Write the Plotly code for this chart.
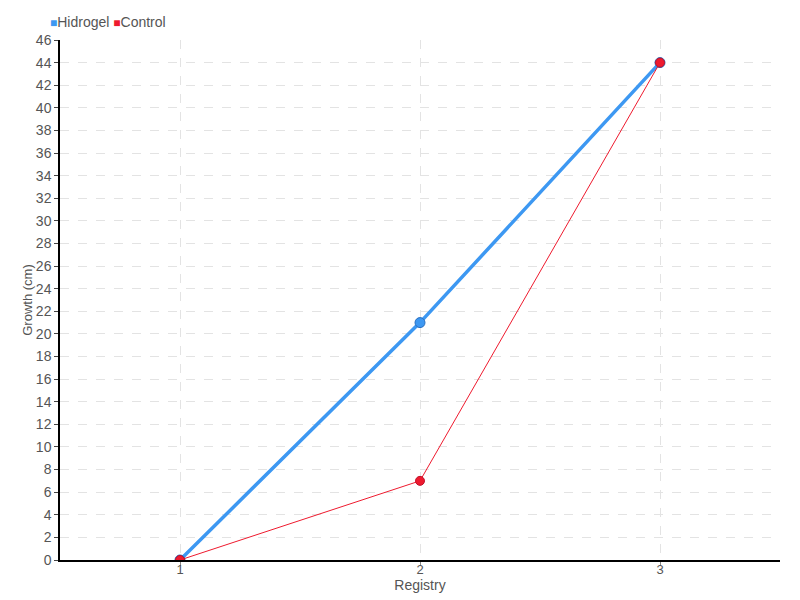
import plotly.graph_objects as go

registry = [1, 2, 3]
hidrogel = [0, 21, 44]
control = [0, 7, 44]

FONT = "Liberation Sans"
BLUE = "#3d98f2"
RED = "#ee1a2e"
TXT = "#555555"

fig = go.Figure()
fig.add_trace(go.Scatter(x=registry, y=hidrogel, mode="lines+markers", name="Hidrogel",
                         line=dict(color=BLUE, width=3.5),
                         marker=dict(color=BLUE, size=10, line=dict(color="#2a6fc0", width=1)),
                         showlegend=False))
fig.add_trace(go.Scatter(x=registry, y=control, mode="lines+markers", name="Control",
                         line=dict(color=RED, width=1),
                         marker=dict(color=RED, size=9, line=dict(color="#c0102a", width=1)),
                         showlegend=False))

legend_text = (f"<span style='color:{BLUE};font-size:12px'>■</span>Hidrogel "
               f"<span style='color:{RED};font-size:12px'>■</span>Control")
fig.add_annotation(text=legend_text, xref="paper", yref="paper", x=-0.016, y=1.0,
                   xanchor="left", yanchor="bottom", yshift=8, showarrow=False,
                   font=dict(family=FONT, size=14, color=TXT))

fig.update_layout(
    width=800, height=600,
    margin=dict(l=52, r=28, t=32, b=48),
    plot_bgcolor="white", paper_bgcolor="white",
    font=dict(family=FONT, size=14, color=TXT),
    showlegend=False,
)
fig.update_xaxes(
    range=[0.5, 3.5], tickvals=registry, ticktext=[str(v) for v in registry],
    showline=True, linecolor="black", linewidth=1.5,
    ticks="outside", ticklen=4, tickcolor="#888888",
    ticklabelstandoff=-7,
    showgrid=True, gridcolor="#e3e3e3", griddash="dash", zeroline=False,
    automargin=False, tickfont=dict(size=13),
    title=dict(text="Registry", standoff=0, font=dict(size=14)),
)
fig.update_yaxes(
    range=[0, 46], dtick=2,
    showline=True, linecolor="black", linewidth=1.5,
    ticks="outside", ticklen=4, tickcolor="#444444",
    showgrid=True, gridcolor="#e3e3e3", griddash="dash", zeroline=False,
    automargin=False,
    title=dict(text="Growth (cm)", standoff=0, font=dict(size=13)),
)
fig.write_html("out.html")
